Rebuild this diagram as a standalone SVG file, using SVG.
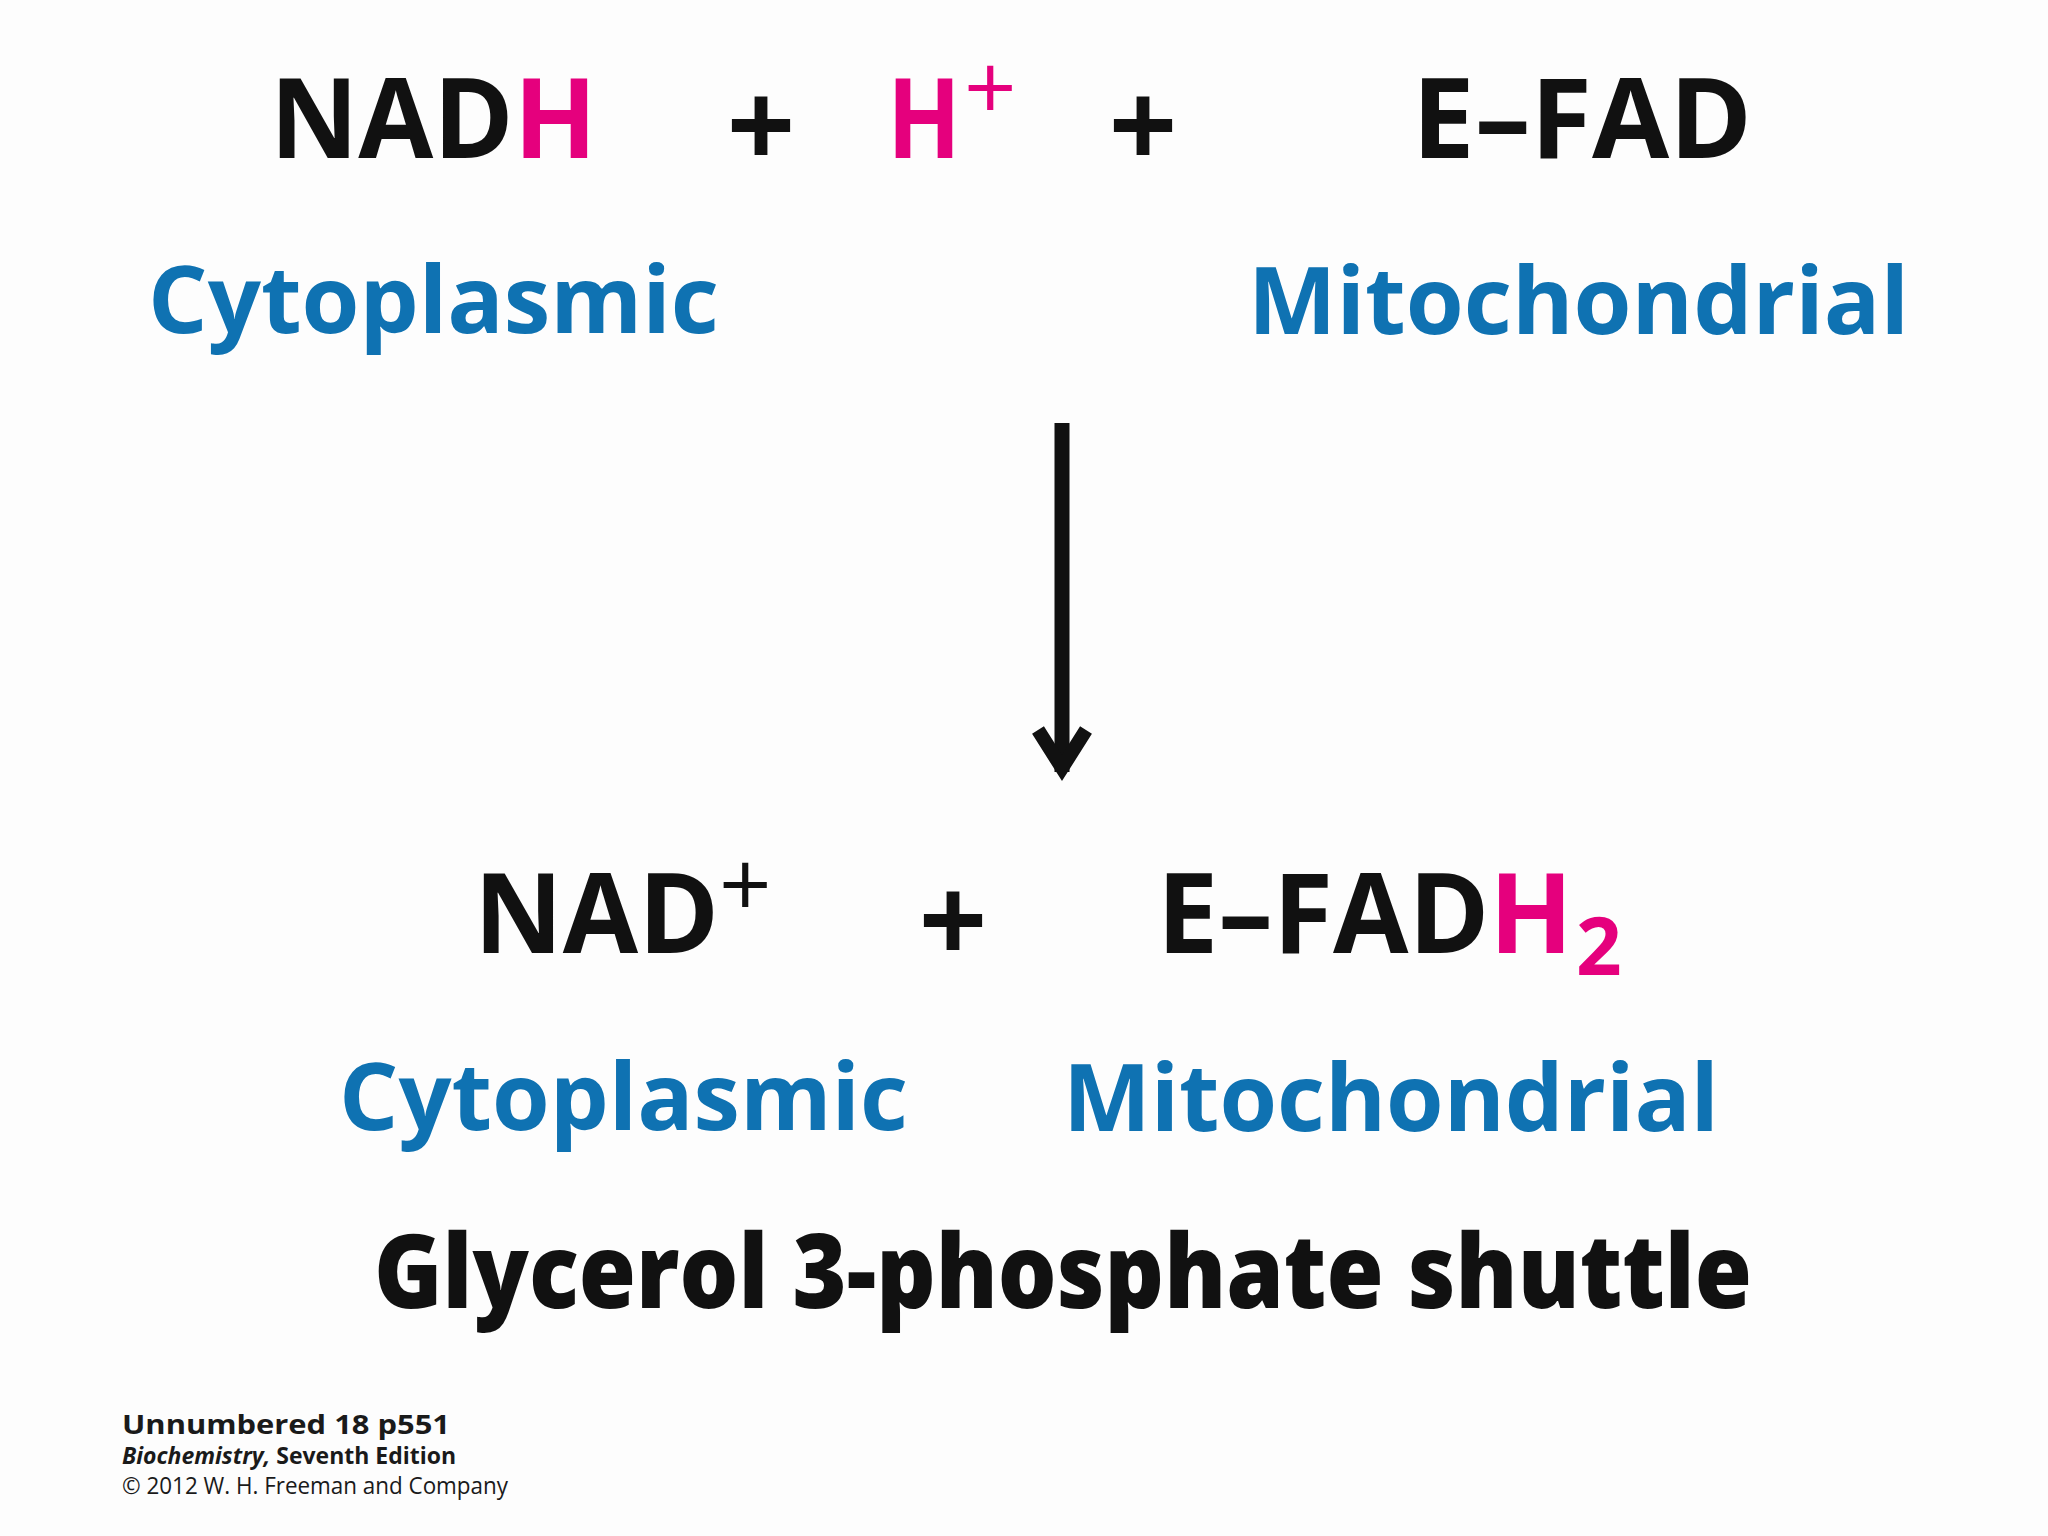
<svg xmlns="http://www.w3.org/2000/svg" width="2048" height="1536" viewBox="0 0 2048 1536">
<style>
  .f { font-family: "Open Sans", "Noto Sans", "Liberation Sans", sans-serif; }
  .formula { font-size: 112px; font-weight: 700; fill: #111111; }
  .mag { fill: #E5007D; }
  .blue { font-size: 94px; font-weight: 700; fill: #0F72B2; }
  .plus { font-size: 120px; font-weight: 700; fill: #111111; text-anchor: middle; }
  .sup { font-size: 92px; font-weight: 400; }
  .title { font-size: 102px; font-weight: 800; fill: #111111; }
  .foot { fill: #1a1a1a; }
</style>
<defs>
  <marker id="head" markerUnits="userSpaceOnUse" viewBox="-60 -40 80 80" markerWidth="80" markerHeight="80" refX="0" refY="0" orient="auto">
    <path d="M-42,-24 L-4,0 L-42,24" fill="none" stroke="#111111" stroke-width="14" stroke-linejoin="miter" stroke-miterlimit="10"/>
  </marker>
</defs>
<rect width="2048" height="1536" fill="#fdfdfd"/>

<g id="nadh">
  <text class="f formula" x="270" y="158" textLength="327" lengthAdjust="spacingAndGlyphs">NAD<tspan class="mag">H</tspan></text>
</g>
<g id="plus-top-1"><text class="f plus" x="761" y="168">+</text></g>
<g id="hplus">
  <text class="f formula mag" x="887" y="158"><tspan textLength="74" lengthAdjust="spacingAndGlyphs">H</tspan><tspan class="sup" x="964" y="120">+</tspan></text>
</g>
<g id="plus-top-2"><text class="f plus" x="1143" y="168">+</text></g>
<g id="efad">
  <text class="f formula" x="1412" y="158" textLength="340" lengthAdjust="spacingAndGlyphs">E–FAD</text>
</g>
<g id="cyto-top">
  <text class="f blue" x="148" y="333" textLength="571" lengthAdjust="spacingAndGlyphs">Cytoplasmic</text>
</g>
<g id="mito-top">
  <text class="f blue" x="1248" y="334" textLength="661" lengthAdjust="spacingAndGlyphs">Mitochondrial</text>
</g>

<g id="connectors">
  <line x1="1062" y1="423" x2="1062" y2="772" stroke="#111111" stroke-width="15" marker-end="url(#head)"/>
</g>

<g id="nadplus">
  <text class="f formula" x="474" y="953"><tspan textLength="245" lengthAdjust="spacingAndGlyphs">NAD</tspan><tspan class="sup" x="719" y="917">+</tspan></text>
</g>
<g id="plus-bottom"><text class="f plus" x="953" y="963">+</text></g>
<g id="efadh2">
  <text class="f formula" x="1157" y="953"><tspan textLength="416" lengthAdjust="spacingAndGlyphs">E–FAD<tspan class="mag">H</tspan></tspan><tspan class="mag" x="1576" y="975" font-size="80" font-weight="700">2</tspan></text>
</g>
<g id="cyto-bottom">
  <text class="f blue" x="339" y="1130" textLength="569" lengthAdjust="spacingAndGlyphs">Cytoplasmic</text>
</g>
<g id="mito-bottom">
  <text class="f blue" x="1063" y="1131" textLength="656" lengthAdjust="spacingAndGlyphs">Mitochondrial</text>
</g>

<g id="title">
  <text class="f title" x="374" y="1308" textLength="1378" lengthAdjust="spacingAndGlyphs">Glycerol 3-phosphate shuttle</text>
</g>

<g id="footer">
  <text class="f foot" x="122" y="1434" font-size="27" font-weight="700" textLength="328" lengthAdjust="spacingAndGlyphs">Unnumbered 18 p551</text>
  <text class="f foot" x="122" y="1464" font-size="23" font-weight="700" textLength="334" lengthAdjust="spacingAndGlyphs"><tspan font-style="italic">Biochemistry,</tspan> Seventh Edition</text>
  <text class="f foot" x="122" y="1494" font-size="23" font-weight="400" fill="#333333" textLength="386" lengthAdjust="spacingAndGlyphs">© 2012 W. H. Freeman and Company</text>
</g>
</svg>
